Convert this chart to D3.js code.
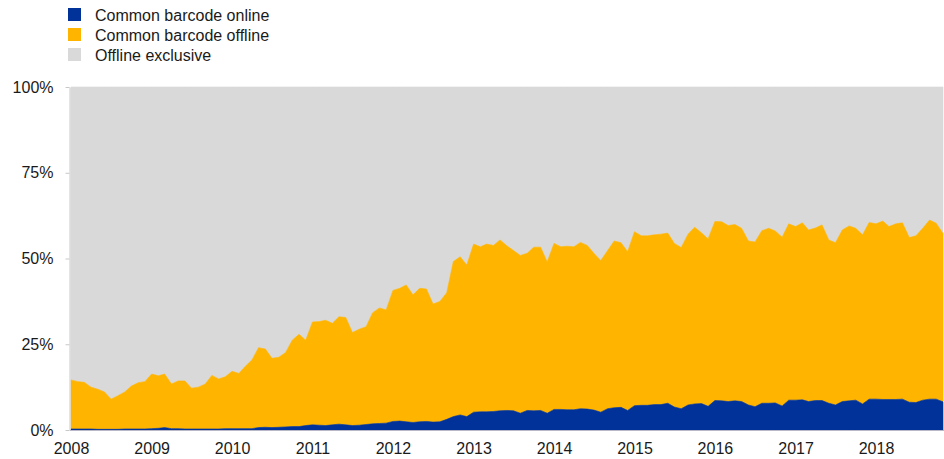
<!DOCTYPE html>
<html>
<head>
<meta charset="utf-8">
<script src="https://cdn.jsdelivr.net/npm/d3@7"></script>
<style>
  body { margin: 0; background: #fff; }
  svg { display: block; font-family: "Liberation Sans", Arial, sans-serif; }
</style>
</head>
<body>
<div id="chart"></div>
<script>
// Year labels on the x axis (monthly data starts January of the first year)
const years = [2008, 2009, 2010, 2011, 2012, 2013, 2014, 2015, 2016, 2017, 2018];

// Shares in %, one value per month, Jan 2008 - Nov 2018
const online = [
  0.3, 0.3, 0.3, 0.3, 0.2, 0.2, 0.2, 0.2, 0.3, 0.3, 0.3, 0.3,
  0.4, 0.5, 0.7, 0.4, 0.4, 0.3, 0.3, 0.3, 0.3, 0.3, 0.3, 0.4,
  0.4, 0.4, 0.4, 0.4, 0.7, 0.8, 0.7, 0.8, 0.9, 1.0, 1.0, 1.3,
  1.5, 1.4, 1.3, 1.5, 1.7, 1.5, 1.3, 1.4, 1.6, 1.8, 1.9, 2.0,
  2.5, 2.6, 2.4, 2.2, 2.4, 2.5, 2.3, 2.4, 3.1, 3.9, 4.4, 3.9,
  5.2, 5.3, 5.3, 5.4, 5.6, 5.7, 5.6, 4.9, 5.7, 5.6, 5.7, 4.9,
  6.0, 6.0, 5.9, 5.9, 6.2, 6.1, 5.8, 5.2, 6.2, 6.5, 6.6, 5.7,
  7.1, 7.2, 7.2, 7.4, 7.4, 7.8, 6.7, 6.2, 7.3, 7.6, 7.7, 6.9,
  8.6, 8.5, 8.3, 8.5, 8.3, 7.3, 6.8, 7.8, 7.8, 7.9, 7.0, 8.7,
  8.7, 8.8, 8.3, 8.6, 8.6, 7.8, 7.3, 8.3, 8.5, 8.7, 7.6, 9.0,
  9.0, 8.9, 8.9, 8.9, 9.0, 8.1, 8.0, 8.7, 9.0, 9.0, 8.2
];

const offlineCommon = [
  14.3, 13.8, 13.6, 12.2, 11.7, 10.9, 8.8, 9.8, 10.8, 12.5, 13.5, 13.8,
  15.9, 15.3, 15.6, 13.0, 13.9, 14.0, 11.9, 12.2, 13.1, 15.6, 14.6, 15.1,
  16.7, 16.1, 18.1, 20.0, 23.3, 22.8, 20.2, 20.4, 21.7, 25.2, 26.9, 24.9,
  30.0, 30.2, 30.7, 29.6, 31.3, 31.3, 27.1, 28.0, 28.5, 32.4, 33.7, 33.0,
  38.2, 38.7, 39.9, 37.2, 38.9, 38.6, 34.4, 35.1, 36.9, 45.2, 46.1, 44.2,
  49.0, 48.1, 48.9, 48.4, 49.8, 48.0, 46.7, 46.0, 45.8, 47.7, 47.6, 44.1,
  48.4, 47.4, 47.7, 47.5, 48.5, 47.7, 45.7, 44.2, 46.1, 48.6, 48.0, 46.3,
  50.7, 49.4, 49.4, 49.5, 49.7, 49.6, 47.7, 47.0, 49.8, 51.5, 49.8, 48.8,
  52.2, 52.2, 51.3, 51.4, 50.5, 47.8, 48.0, 50.3, 51.0, 50.1, 49.2, 51.4,
  50.6, 51.6, 50.0, 50.3, 51.2, 47.6, 47.3, 50.0, 51.0, 50.1, 49.3, 51.5,
  51.1, 52.0, 50.4, 51.2, 51.4, 48.0, 48.6, 50.1, 52.2, 51.3, 49.1
];

const offlineExclusive = [
  85.4, 85.9, 86.1, 87.5, 88.1, 88.9, 91.0, 90.0, 88.9, 87.2, 86.2, 85.9,
  83.7, 84.2, 83.7, 86.6, 85.7, 85.7, 87.8, 87.5, 86.6, 84.1, 85.1, 84.5,
  82.9, 83.5, 81.5, 79.6, 76.0, 76.4, 79.1, 78.8, 77.4, 73.8, 72.1, 73.8,
  68.5, 68.4, 68.0, 68.9, 67.0, 67.2, 71.6, 70.6, 69.9, 65.8, 64.4, 65.0,
  59.3, 58.7, 57.7, 60.6, 58.7, 58.9, 63.3, 62.5, 60.0, 50.9, 49.5, 51.9,
  45.8, 46.6, 45.8, 46.2, 44.6, 46.3, 47.7, 49.1, 48.5, 46.7, 46.7, 51.0,
  45.6, 46.6, 46.4, 46.6, 45.3, 46.2, 48.5, 50.6, 47.7, 44.9, 45.4, 48.0,
  42.2, 43.4, 43.4, 43.1, 42.9, 42.6, 45.6, 46.8, 42.9, 40.9, 42.5, 44.3,
  39.2, 39.3, 40.4, 40.1, 41.2, 44.9, 45.2, 41.9, 41.2, 42.0, 43.8, 39.9,
  40.7, 39.6, 41.7, 41.1, 40.2, 44.6, 45.4, 41.7, 40.5, 41.2, 43.1, 39.5,
  39.9, 39.1, 40.7, 39.9, 39.6, 43.9, 43.4, 41.2, 38.8, 39.7, 42.7
];

const seriesNames = ["Common barcode online", "Common barcode offline", "Offline exclusive"];
const yTicks = [0, 25, 50, 75, 100];

const colors = {
  "Common barcode online": "#003299",
  "Common barcode offline": "#ffb400",
  "Offline exclusive": "#d9d9d9",
};

const width = 944;
const height = 459;

// Build the table d3.stack needs
const table = online.map((v, i) => ({
  date: new Date(years[0], i, 1),
  "Common barcode online": v,
  "Common barcode offline": offlineCommon[i],
  "Offline exclusive": offlineExclusive[i],
}));

const svg = d3
  .select("#chart")
  .append("svg")
  .attr("width", width)
  .attr("height", height);

const x = d3
  .scaleTime()
  .domain(d3.extent(table, (d) => d.date))
  .range([71, 943]);

const y = d3.scaleLinear().domain([0, 100]).range([430, 87]);

const stacked = d3.stack().keys(seriesNames)(table);

const area = d3
  .area()
  .x((d) => x(d.data.date))
  .y0((d) => y(d[0]))
  .y1((d) => y(d[1]));

// Draw from top series down so seams are covered by the lower fills
svg
  .append("g")
  .selectAll("path")
  .data(stacked.slice().reverse())
  .join("path")
  .attr("fill", (d) => colors[d.key])
  .attr("stroke", (d) => colors[d.key])
  .attr("stroke-width", 0.6)
  .attr("d", area);

// Y axis
const yAxis = svg
  .append("g")
  .attr("transform", "translate(69.5,0)")
  .call(
    d3
      .axisLeft(y)
      .tickValues(yTicks)
      .tickFormat((d) => d + "%")
      .tickSizeInner(4)
      .tickSizeOuter(0)
      .tickPadding(12)
  );
yAxis.select(".domain").attr("stroke", "#c8c8c8");
yAxis.selectAll(".tick line").attr("stroke", "#c8c8c8");
yAxis
  .selectAll("text")
  .attr("font-size", "16px")
  .attr("font-family", "Liberation Sans, Arial, sans-serif")
  .attr("fill", "#1a1a1a");

// X axis with a label at each year start
const xAxis = svg
  .append("g")
  .attr("transform", "translate(0,430.5)")
  .call(
    d3
      .axisBottom(x)
      .tickValues(years.map((yr) => new Date(yr, 0, 1)))
      .tickFormat(d3.timeFormat("%Y"))
      .tickSize(0)
      .tickPadding(12)
  );
xAxis.select(".domain").attr("stroke", "#b8b8c8").attr("d", "M70,0H944");
xAxis
  .selectAll("text")
  .attr("font-size", "16px")
  .attr("font-family", "Liberation Sans, Arial, sans-serif")
  .attr("fill", "#1a1a1a");

// Legend
const legend = svg.append("g").attr("transform", "translate(68,8)");
seriesNames.forEach((name, i) => {
  const item = legend.append("g").attr("transform", `translate(0, ${i * 20})`);
  item
    .append("rect")
    .attr("width", 13)
    .attr("height", 13)
    .attr("fill", colors[name]);
  item
    .append("text")
    .attr("x", 27)
    .attr("y", 13)
    .attr("font-size", "16px")
    .attr("fill", "#1a1a1a")
    .text(name);
});
</script>
</body>
</html>
